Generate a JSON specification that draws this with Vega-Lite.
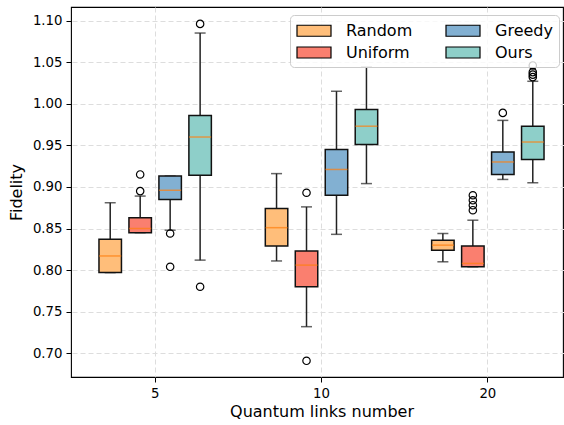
{
  "$schema": "https://vega.github.io/schema/vega-lite/v6.json",
  "width": 492,
  "height": 370,
  "autosize": "none",
  "padding": {"left": 71, "top": 7, "right": 1, "bottom": 48},
  "config": {
    "font": "DejaVu Sans",
    "view": {"stroke": "black", "strokeWidth": 1.1},
    "axis": {
      "domain": false,
      "tickColor": "black",
      "tickSize": 5,
      "tickWidth": 1,
      "labelColor": "black",
      "labelFontSize": 13.3,
      "labelFont": "DejaVu Sans",
      "titleFont": "DejaVu Sans",
      "titleFontSize": 16,
      "titleFontWeight": "normal",
      "titleColor": "black",
      "grid": true,
      "gridColor": "#dddddd",
      "gridDash": [5, 3],
      "gridWidth": 1
    }
  },
  "datasets": {
    "boxes": [
      {"n": "5", "method": "Random", "lower": 0.797, "q1": 0.797, "median": 0.817, "q3": 0.837, "upper": 0.881},
      {"n": "5", "method": "Uniform", "lower": 0.845, "q1": 0.845, "median": 0.850, "q3": 0.863, "upper": 0.889},
      {"n": "5", "method": "Greedy", "lower": 0.848, "q1": 0.885, "median": 0.896, "q3": 0.913, "upper": 0.913},
      {"n": "5", "method": "Ours", "lower": 0.812, "q1": 0.914, "median": 0.960, "q3": 0.986, "upper": 1.085},
      {"n": "10", "method": "Random", "lower": 0.811, "q1": 0.829, "median": 0.851, "q3": 0.874, "upper": 0.916},
      {"n": "10", "method": "Uniform", "lower": 0.732, "q1": 0.780, "median": 0.806, "q3": 0.823, "upper": 0.876},
      {"n": "10", "method": "Greedy", "lower": 0.843, "q1": 0.890, "median": 0.921, "q3": 0.945, "upper": 1.015},
      {"n": "10", "method": "Ours", "lower": 0.904, "q1": 0.951, "median": 0.973, "q3": 0.993, "upper": 1.044},
      {"n": "20", "method": "Random", "lower": 0.810, "q1": 0.824, "median": 0.830, "q3": 0.836, "upper": 0.844},
      {"n": "20", "method": "Uniform", "lower": 0.804, "q1": 0.804, "median": 0.808, "q3": 0.829, "upper": 0.860},
      {"n": "20", "method": "Greedy", "lower": 0.909, "q1": 0.915, "median": 0.930, "q3": 0.942, "upper": 0.980},
      {"n": "20", "method": "Ours", "lower": 0.905, "q1": 0.933, "median": 0.954, "q3": 0.973, "upper": 1.027}
    ],
    "outliers": [
      {"n": "5", "method": "Uniform", "value": 0.895},
      {"n": "5", "method": "Uniform", "value": 0.915},
      {"n": "5", "method": "Greedy", "value": 0.844},
      {"n": "5", "method": "Greedy", "value": 0.804},
      {"n": "5", "method": "Ours", "value": 1.096},
      {"n": "5", "method": "Ours", "value": 0.780},
      {"n": "10", "method": "Uniform", "value": 0.893},
      {"n": "10", "method": "Uniform", "value": 0.691},
      {"n": "20", "method": "Uniform", "value": 0.872},
      {"n": "20", "method": "Uniform", "value": 0.878},
      {"n": "20", "method": "Uniform", "value": 0.884},
      {"n": "20", "method": "Uniform", "value": 0.890},
      {"n": "20", "method": "Greedy", "value": 0.989},
      {"n": "20", "method": "Ours", "value": 1.032},
      {"n": "20", "method": "Ours", "value": 1.035},
      {"n": "20", "method": "Ours", "value": 1.038},
      {"n": "20", "method": "Ours", "value": 1.046}
    ]
  },
  "encoding": {
    "x": {
      "field": "n",
      "type": "nominal",
      "sort": ["5", "10", "20"],
      "scale": {"range": [1, 500], "paddingInner": 0, "paddingOuter": 0},
      "axis": {"title": "Quantum links number", "labelAngle": 0, "bandPosition": 0.5, "labelPadding": 4, "titlePadding": 4}
    },
    "xOffset": {
      "field": "method",
      "type": "nominal",
      "sort": ["Random", "Uniform", "Greedy", "Ours"],
      "scale": {"paddingInner": 0.25, "paddingOuter": 0.9}
    }
  },
  "layer": [
    {
      "data": {"name": "boxes"},
      "mark": {"type": "rule", "color": "#222222", "strokeWidth": 1.5},
      "encoding": {
        "y": {
          "field": "lower",
          "type": "quantitative",
          "scale": {"domain": [0.6715, 1.1163], "nice": false, "zero": false},
          "axis": {"title": "Fidelity", "values": [0.7, 0.75, 0.8, 0.85, 0.9, 0.95, 1.0, 1.05, 1.1], "format": ".2f", "labelPadding": 4, "titlePadding": 8}
        },
        "y2": {"field": "q1"}
      }
    },
    {
      "data": {"name": "boxes"},
      "mark": {"type": "rule", "color": "#222222", "strokeWidth": 1.5},
      "encoding": {
        "y": {"field": "q3", "type": "quantitative"},
        "y2": {"field": "upper"}
      }
    },
    {
      "data": {"name": "boxes"},
      "mark": {"type": "tick", "color": "#222222", "thickness": 1.5, "size": 11, "orient": "horizontal"},
      "encoding": {"y": {"field": "lower", "type": "quantitative"}}
    },
    {
      "data": {"name": "boxes"},
      "mark": {"type": "tick", "color": "#222222", "thickness": 1.5, "size": 11, "orient": "horizontal"},
      "encoding": {"y": {"field": "upper", "type": "quantitative"}}
    },
    {
      "data": {"name": "boxes"},
      "mark": {"type": "bar", "stroke": "#111111", "strokeWidth": 1.5, "opacity": 1},
      "encoding": {
        "y": {"field": "q1", "type": "quantitative"},
        "y2": {"field": "q3"},
        "fill": {
          "field": "method",
          "type": "nominal",
          "scale": {"domain": ["Random", "Uniform", "Greedy", "Ours"], "range": ["#ffbe7a", "#fa7f6f", "#82b0d2", "#8ecfc9"]},
          "legend": {
            "title": null,
            "orient": "none",
            "legendX": 219,
            "legendY": 8,
            "columns": 2,
            "symbolType": "M-1,-0.647H3V0.647H-1Z",
            "symbolSize": 289,
            "symbolStrokeColor": "black",
            "symbolStrokeWidth": 1.2,
            "symbolOpacity": 1,
            "labelFontSize": 16,
            "labelFont": "DejaVu Sans",
            "labelColor": "black",
            "labelOffset": 31,
            "fillColor": "rgba(255,255,255,0.8)",
            "strokeColor": "#cccccc",
            "cornerRadius": 4,
            "padding": 6,
            "rowPadding": 4,
            "columnPadding": 30
          }
        }
      }
    },
    {
      "data": {"name": "boxes"},
      "mark": {"type": "tick", "color": "#ff7f0e", "thickness": 1.5, "size": 22, "orient": "horizontal"},
      "encoding": {"y": {"field": "median", "type": "quantitative"}}
    },
    {
      "data": {"name": "outliers"},
      "mark": {"type": "point", "shape": "circle", "filled": false, "stroke": "black", "strokeWidth": 1.2, "size": 55, "opacity": 1},
      "encoding": {"y": {"field": "value", "type": "quantitative"}}
    }
  ]
}
